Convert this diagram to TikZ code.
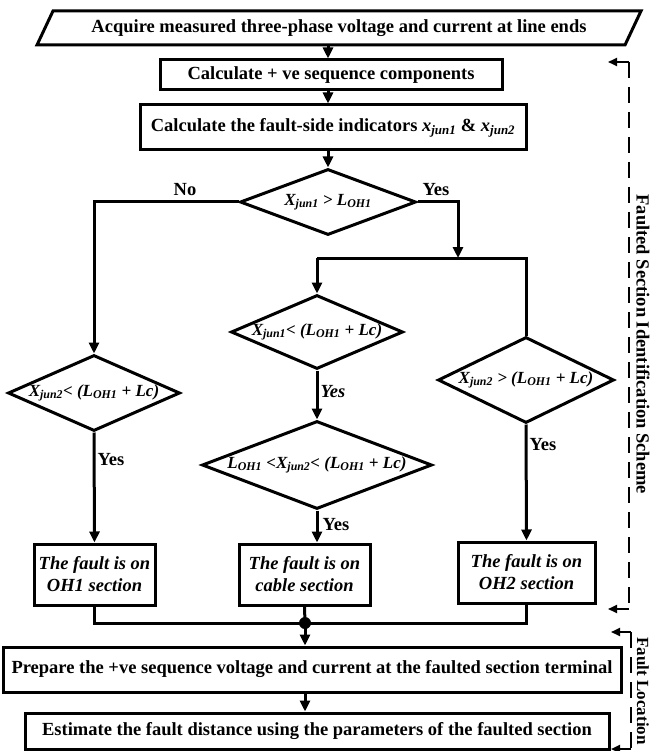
\documentclass[tikz,border=0pt]{standalone}
\usepackage{fontspec}
\setmainfont{Liberation Serif}
\usetikzlibrary{arrows.meta,shapes.geometric}

\begin{document}
\begin{tikzpicture}[x=1pt,y=-1pt,>={Stealth[inset=0pt,length=11pt,width=10pt]},
  line width=3pt,font=\fontsize{18.5}{21}\selectfont\bfseries,
  box/.style={draw,rectangle,inner sep=0pt,align=center},
  dia/.style={draw,diamond,inner sep=0pt,font=\fontsize{17}{20}\selectfont\bfseries\itshape},
  fbox/.style={box,font=\fontsize{18.5}{22}\selectfont\bfseries\itshape},
  brk/.style={line width=2pt,dash pattern=on 16pt off 9pt},
  brkarr/.style={line width=2pt,->,>={Stealth[inset=0pt,length=9pt,width=8pt]}}]
\useasboundingbox (0,0) rectangle (652,751);
\node[rectangle,inner sep=0pt,minimum width=585pt,minimum height=31pt] (in1) at (339,28)
  {Acquire measured three-phase voltage and current at line ends};
\draw ([xshift=-8pt]in1.south west) -- ([xshift=8pt]in1.north west)
  -- ([xshift=8pt]in1.north east) -- ([xshift=-8pt]in1.south east) -- cycle;
\node[box,minimum width=342pt,minimum height=30pt] (c1) at (331,75) {Calculate + ve sequence components};
\node[box,minimum width=386pt,minimum height=45pt] (c2) at (333,127.5)
  {Calculate the fault-side indicators \textit{x\textsubscript{jun1}} \& \textit{x\textsubscript{jun2}}};
\node[dia,minimum width=176pt,minimum height=66pt,shape aspect=2.67] (d1) at (328,202)
  {X\textsubscript{jun1} > L\textsubscript{OH1}};
\node[dia,minimum width=172pt,minimum height=76pt,shape aspect=2.26] (d2) at (94,393)
  {X\textsubscript{jun2}< (L\textsubscript{OH1} + Lc)};
\node[dia,minimum width=172pt,minimum height=74pt,shape aspect=2.32] (d3) at (317,332)
  {X\textsubscript{jun1}< (L\textsubscript{OH1} + Lc)};
\node[dia,minimum width=230pt,minimum height=88pt,shape aspect=2.61] (d4) at (317,465)
  {L\textsubscript{OH1} <X\textsubscript{jun2}< (L\textsubscript{OH1} + Lc)};
\node[dia,minimum width=176pt,minimum height=86pt,shape aspect=2.05] (d5) at (526,380)
  {X\textsubscript{jun2} > (L\textsubscript{OH1} + Lc)};
\node[fbox,minimum width=121pt,minimum height=61pt] (f1) at (94.5,574.5) {The fault is on\\OH1 section};
\node[fbox,minimum width=131pt,minimum height=61pt] (f2) at (304.5,574.5) {The fault is on\\cable section};
\node[fbox,minimum width=137pt,minimum height=61pt] (f3) at (526.5,572.5) {The fault is on\\OH2 section};
\node[circle,fill,inner sep=0pt,minimum size=12pt] (dot) at (305,623) {};
\node[box,minimum width=618pt,minimum height=45pt] (p1) at (312,669.5)
  {Prepare the +ve sequence voltage and current at the faulted section terminal};
\node[box,minimum width=584pt,minimum height=36pt] (p2) at (317,731)
  {Estimate the fault distance using the parameters of the faulted section};
\coordinate (j1) at (458,258);
\draw[->] (in1.south -| d1) -- (c1.north -| d1);
\draw[->] (c1.south -| d1) -- (c2.north -| d1);
\draw[->] (c2.south -| d1) -- (d1.north);
\draw[->] (d1.west) -| (d2.north);
\draw[->] (d1.east) -| (j1);
\draw (d3 |- j1) -| (d5.north);
\draw[->] (d3 |- j1) -- (d3.north);
\draw[->] (d3.south) -- (d4.north);
\draw[->] (d4.south) -- (d4.south |- f2.north);
\draw[->] (d2.south) -- (f1.north);
\draw[->] (d5.south) -- (f3.north);
\draw (f1.south) |- (dot.center) -| (f3.south);
\draw (f2.south) -- (dot.center);
\draw[->] (dot.center) -- (p1.north -| dot);
\draw[->] (p1.south -| dot) -- (p2.north -| dot);
\node (no1) at (185,190) {No};
\node (yes1) at (436,190) {Yes};
\node (yes2) at (333,392) {\itshape Yes};
\node (yes3) at (111,460) {Yes};
\node (yes4) at (336,525) {Yes};
\node (yes5) at (543,445) {Yes};
\coordinate (b1) at (629,62);
\coordinate (b2) at (629,609);
\coordinate (t1) at (608,62);
\coordinate (t2) at (608,609);
\draw[brkarr] (b1) -- (t1);
\draw[brk] (b1) -- (b2);
\draw[brkarr] (b2) -- (t2);
\coordinate (b3) at (631,632);
\coordinate (b4) at (631,749);
\coordinate (t3) at (611,632);
\coordinate (t4) at (611,749);
\draw[brkarr] (b3) -- (t3);
\draw[brk] (b3) -- (b4);
\draw[brkarr] (b4) -- (t4);
\node[rotate=-90,anchor=west,inner sep=0pt] (lab1) at (643,193) {Faulted Section Identification Scheme};
\node[rotate=-90,anchor=west,inner sep=0pt,font=\fontsize{17}{20}\selectfont\bfseries] (lab2) at (643,636) {Fault Location};
\end{tikzpicture}
\end{document}
